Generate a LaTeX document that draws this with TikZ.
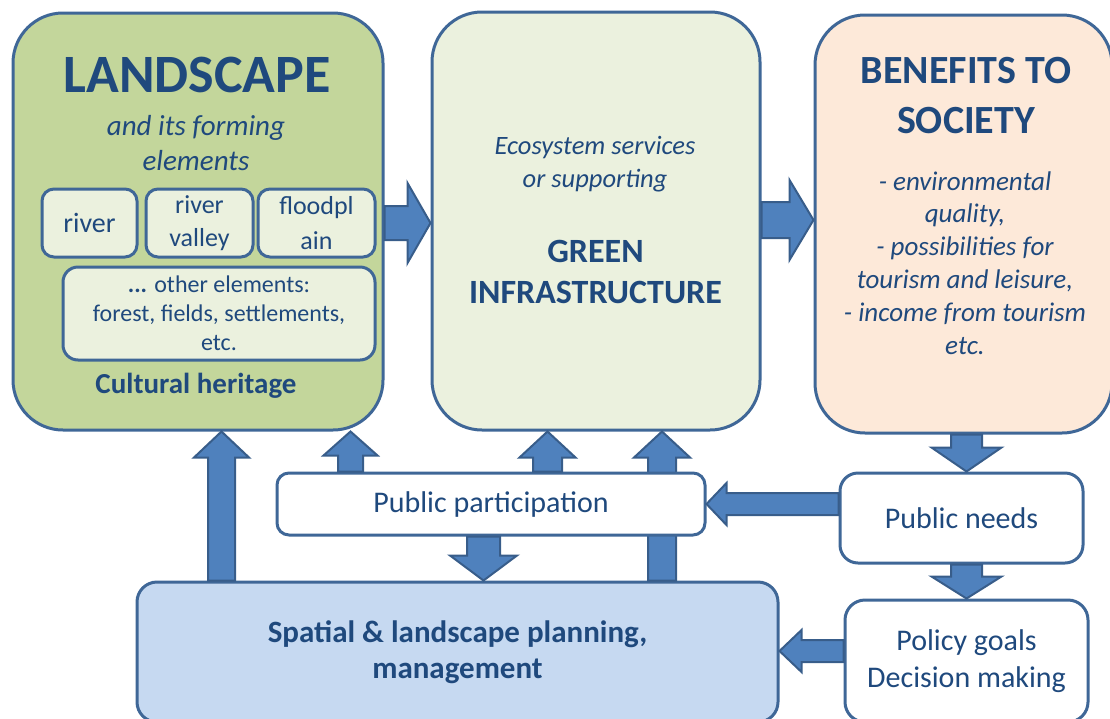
\documentclass[tikz,border=0pt]{standalone}
\usepackage{fontspec}
\setmainfont{Carlito}
\usetikzlibrary{calc}
\definecolor{txt}{HTML}{1F497D}
\definecolor{bord}{HTML}{3F6797}
\definecolor{arrbord}{HTML}{385D8A}
\definecolor{arrfill}{HTML}{4F81BD}
\definecolor{green1}{HTML}{C3D69B}
\definecolor{green2}{HTML}{EBF1DE}
\definecolor{peach}{HTML}{FDE9D9}
\definecolor{blue1}{HTML}{C6D9F1}
\newcommand\fs[2]{\fontsize{#1}{#2}\selectfont}
\tikzset{
  bigbox/.style={draw=bord, line width=3pt, rectangle, inner sep=0pt, rounded corners=50pt},
  subbox/.style={draw=bord, line width=3pt, rectangle, inner sep=0pt, rounded corners=12pt, fill=green2, text=txt, align=center},
  flowbox/.style={draw=bord, line width=3pt, rectangle, inner sep=0pt, rounded corners=18pt, fill=white, text=txt, align=center},
  blk/.style={draw=arrbord, fill=arrfill, line width=2pt, line join=miter},
  tx/.style={text=txt, align=center, inner sep=0pt, anchor=base},
}
% horizontal block arrow: y, start, end, shaft half, head half, head length
\newcommand\harrow[6]{%
  \draw[blk] let \p1=(#2 |- 0,#1), \p2=(#3 |- 0,#1), \n1={sign(\x2-\x1)} in
   (\x1,{\y1-#4pt}) -- ({\x2-(\n1)*#6pt},{\y1-#4pt}) -- ({\x2-(\n1)*#6pt},{\y1-#5pt}) -- (\x2,\y1)
   -- ({\x2-(\n1)*#6pt},{\y1+#5pt}) -- ({\x2-(\n1)*#6pt},{\y1+#4pt}) -- (\x1,{\y1+#4pt}) -- cycle;}
% vertical block arrow: x, start, end, shaft half, head half, head length
\newcommand\varrow[6]{%
  \draw[blk] let \p1=(#1,0 |- #2), \p2=(#1,0 |- #3), \n1={sign(\y2-\y1)} in
   ({\x1-#4pt},\y1) -- ({\x1-#4pt},{\y2-(\n1)*#6pt}) -- ({\x1-#5pt},{\y2-(\n1)*#6pt}) -- (\x2,\y2)
   -- ({\x1+#5pt},{\y2-(\n1)*#6pt}) -- ({\x1+#4pt},{\y2-(\n1)*#6pt}) -- ({\x1+#4pt},\y1) -- cycle;}
\begin{document}
\begin{tikzpicture}[x=1pt,y=-1pt]
\useasboundingbox (0,0) rectangle (1110,718);
% main boxes
\node[bigbox, fill=green1, minimum width=370pt, minimum height=417pt] (land) at (198,221.5) {};
\node[bigbox, fill=green2, minimum width=328pt, minimum height=418pt] (gi) at (596,221) {};
\node[bigbox, fill=peach, minimum width=297pt, minimum height=418pt] (ben) at (963.5,224) {};
\node[flowbox, fill=blue1, rounded corners=20pt, minimum width=641pt, minimum height=140pt,
      font=\fs{31}{36}\bfseries] (sp) at (457.5,652) {Spatial \& landscape planning,\\management};
\node[flowbox, minimum width=243pt, minimum height=90pt, font=\fs{30}{37}] (needs) at (961.5,518) {Public needs};
\node[flowbox, rounded corners=20pt, minimum width=243pt, minimum height=122pt, font=\fs{30}{37}] (pol) at (966.5,661) {Policy goals\\Decision making};
% landscape contents (base = baseline of last line)
\node[tx, font=\fs{54}{60}\bfseries] (landT) at (197,92) {LANDSCAPE};
\node[tx, font=\fs{29}{35}\itshape] (landS) at (196,170) {and its forming\\elements};
\node[subbox, minimum width=95pt, minimum height=68pt, font=\fs{28}{33}] (river) at (89.5,223) {river};
\node[subbox, minimum width=107pt, minimum height=68pt, font=\fs{26}{33}] (valley) at (199.5,223) {river\\valley};
\node[subbox, minimum width=117pt, minimum height=68pt, font=\fs{26}{35}] (flood) at (316.5,223) {floodpl\\ain};
\node[subbox, rounded corners=15pt, minimum width=312pt, minimum height=93pt, font=\fs{24}{29}] (other) at (219,313.5) {\textbf{...} other elements:\\forest, fields, settlements,\\etc.};
\node[tx, font=\fs{29}{35}\bfseries] (cult) at (196,393) {Cultural heritage};
% green infrastructure contents
\node[tx, font=\fs{26.5}{33}\itshape] (eco) at (595,187) {Ecosystem services\\or supporting};
\node[tx, font=\fs{34}{41}\bfseries] (giT) at (595.5,303) {GREEN\\INFRASTRUCTURE};
% benefits contents
\node[tx, font=\fs{40}{50}\bfseries] (benT) at (966,133) {BENEFITS TO\\SOCIETY};
\node[tx, font=\fs{27}{32.8}\itshape] (benS) at (965,354) {- environmental\\quality,\\- possibilities for\\tourism and leisure,\\- income from tourism\\etc.};
% arrow passing behind public participation
\varrow{662}{sp.north}{gi.south}{14}{28}{26}
\node[flowbox, rounded corners=12pt, minimum width=428pt, minimum height=62pt, font=\fs{30}{36}] (pp) at (491,504) {Public participation};
% arrows
\harrow{223}{land.east}{gi.west}{17}{40}{23}
\harrow{220}{gi.east}{ben.west}{18}{40}{24}
\varrow{221.5}{sp.north}{land.south}{13.5}{27.5}{26}
\varrow{350.5}{pp.north}{land.south}{12.5}{27}{24}
\varrow{547.5}{pp.north}{gi.south}{14.5}{28}{26}
\varrow{483.5}{pp.south}{sp.north}{16.5}{33.5}{25}
\harrow{504}{needs.west}{pp.east}{11}{21}{20}
\varrow{966.5}{ben.south}{needs.north}{15.5}{35}{24}
\varrow{966.5}{needs.south}{pol.north}{15.5}{35}{22}
\harrow{651}{pol.west}{sp.east}{11}{21}{22}
\end{tikzpicture}
\end{document}
